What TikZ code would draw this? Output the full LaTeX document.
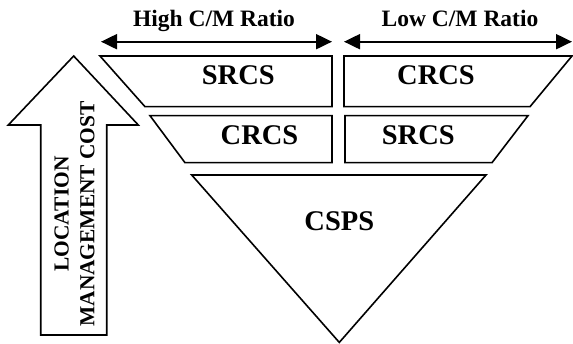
\documentclass[tikz,border=0pt]{standalone}
\usepackage{fontspec}
\setmainfont{Liberation Serif}
\usetikzlibrary{arrows.meta}
\begin{document}
\begin{tikzpicture}[x=1pt,y=-1pt,
  outline/.style={draw=black,line width=1.6pt,line join=miter},
  lbl/.style={font=\fontsize{28.5}{30}\selectfont\bfseries,anchor=base,inner sep=0pt},
  hdr/.style={font=\fontsize{23.5}{26}\selectfont\bfseries,anchor=base,inner sep=0pt},
  dbl/.style={line width=2pt,{Triangle[length=16pt,width=15pt]}-{Triangle[length=16pt,width=15pt]}}]
\useasboundingbox (0,0) rectangle (573,344);
% header arrows
\coordinate (la) at (101,41.7);
\coordinate (lb) at (332,41.7);
\coordinate (ra) at (344,41.7);
\coordinate (rb) at (572,41.7);
\draw[dbl] (la) -- (lb);
\draw[dbl] (ra) -- (rb);
\node[hdr] (high) at (214,27) {High C/M Ratio};
\node[hdr] (low) at (460,27) {Low C/M Ratio};
% top row
\draw[outline] (100,56) -- (332,56) -- (332,106.7) -- (145,106.7) -- cycle;
\draw[outline] (344,56) -- (572,56) -- (530,106.7) -- (344,106.7) -- cycle;
% middle row
\draw[outline] (150,115.7) -- (332,115.7) -- (332,162.7) -- (185,162.7) -- cycle;
\draw[outline] (345,115.7) -- (528,115.7) -- (492,162.7) -- (345,162.7) -- cycle;
% triangle
\draw[outline] (191.7,175) -- (486,175) -- (339.3,342.4) -- cycle;
% big up arrow
\draw[outline] (73.7,56) -- (138.3,125) -- (106.7,125) -- (106.7,335) -- (40.7,335) -- (40.7,125) -- (8.3,125) -- cycle;
% labels
\node[lbl] (s1) at (238.3,85) {SRCS};
\node[lbl] (c1) at (436,85) {CRCS};
\node[lbl] (c2) at (259.5,144.3) {CRCS};
\node[lbl] (s2) at (418.3,144.3) {SRCS};
\node[lbl] (cs) at (339.3,231) {CSPS};
\node[rotate=90,align=center,inner sep=0pt,font=\fontsize{21.4}{25.8}\selectfont\bfseries] (lmc) at (74.6,214) {LOCATION\\MANAGEMENT COST};
\end{tikzpicture}
\end{document}
